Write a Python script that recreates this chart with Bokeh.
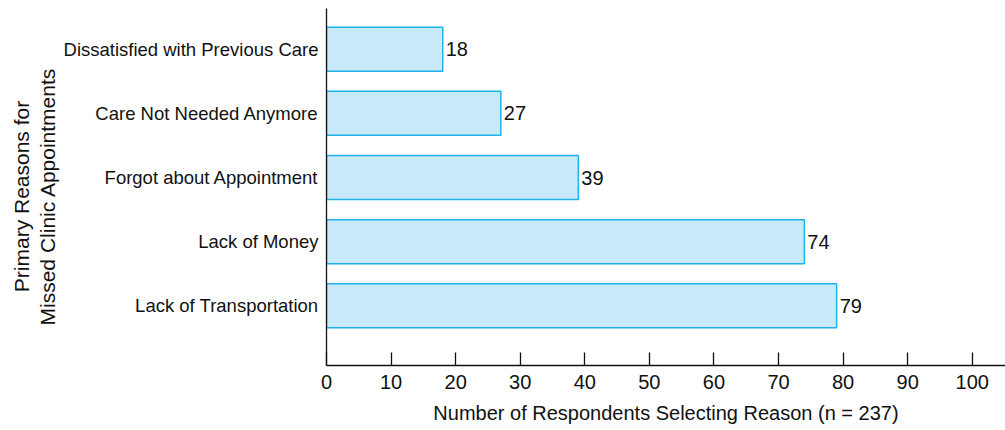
from bokeh.plotting import figure
from bokeh.models import ColumnDataSource, FixedTicker, Range1d, Label
from bokeh.layouts import row
from bokeh.core.properties import value
from bokeh.embed import file_html
from bokeh.resources import INLINE

# Survey results: primary reasons for missed clinic appointments
reasons = [
    "Lack of Transportation",
    "Lack of Money",
    "Forgot about Appointment",
    "Care Not Needed Anymore",
    "Dissatisfied with Previous Care",
]
respondents = [79, 74, 39, 27, 18]
x_ticks = [0, 10, 20, 30, 40, 50, 60, 70, 80, 90, 100]
y_title_lines = ["Primary Reasons for", "Missed Clinic Appointments"]

FONT = "Liberation Sans"
INK = "#111111"
STRIP_W = 60

positions = list(range(len(reasons)))
source = ColumnDataSource(dict(
    y=positions,
    value=respondents,
    label=[str(v) for v in respondents],
))

p = figure(
    width=1005 - STRIP_W, height=430,
    output_backend="svg", toolbar_location=None,
    x_range=Range1d(0, 105.15),
    y_range=Range1d(-0.93, 4.634),
    min_border_left=326 - STRIP_W, min_border_right=0,
    min_border_top=8, min_border_bottom=65,
)
p.outline_line_color = None
p.xgrid.visible = False
p.ygrid.visible = False
p.background_fill_color = "white"
p.border_fill_color = "white"

p.hbar(y="y", left=0, right="value", height=0.685, source=source,
       fill_color="#c8e9f8", line_color="#1fb1ea", line_width=1.5)

p.text(x="value", y="y", text="label", source=source,
       x_offset=3, text_baseline="middle", text_align="left",
       text_font=value(FONT), text_font_size="20px", text_color=INK)

# x axis: ticks pointing inward, labels below
xa = p.xaxis[0]
xa.ticker = FixedTicker(ticks=x_ticks)
xa.axis_line_color = INK
xa.axis_line_width = 1.3
xa.major_tick_in = 13
xa.major_tick_out = 0
xa.major_tick_line_color = INK
xa.major_tick_line_width = 1.3
xa.minor_tick_line_color = None
xa.major_label_text_font = FONT
xa.major_label_text_font_size = "20px"
xa.major_label_text_color = INK
xa.major_label_standoff = 9
xa.axis_label = "Number of Respondents Selecting Reason (n = 237)"
xa.axis_label_text_font = FONT
xa.axis_label_text_font_size = "20px"
xa.axis_label_text_font_style = "normal"
xa.axis_label_text_color = INK
xa.axis_label_standoff = 10

# y axis: plain line with category names, no ticks
ya = p.yaxis[0]
ya.ticker = FixedTicker(ticks=positions)
ya.major_label_overrides = {i: r for i, r in zip(positions, reasons)}
ya.axis_line_color = INK
ya.axis_line_width = 1.3
ya.major_tick_in = 0
ya.major_tick_out = 0
ya.major_tick_line_color = None
ya.minor_tick_line_color = None
ya.major_label_text_font = FONT
ya.major_label_text_font_size = "18.5px"
ya.major_label_text_color = INK
ya.major_label_standoff = 8

# narrow strip on the left carrying the two-line vertical axis title
strip = figure(
    width=STRIP_W, height=430,
    output_backend="svg", toolbar_location=None,
    x_range=Range1d(0, 1), y_range=Range1d(0, 1),
    min_border_left=0, min_border_right=0,
    min_border_top=0, min_border_bottom=0,
)
strip.axis.visible = False
strip.grid.visible = False
strip.outline_line_color = None
strip.background_fill_color = "white"
strip.border_fill_color = "white"

# the strip's frame lines up with the chart frame (canvas y 8..365)
for txt, xs in zip(y_title_lines, [21, 47]):
    strip.add_layout(Label(
        x=xs, y=169, x_units="screen", y_units="screen",
        text=txt, angle=1.5707963, text_align="center",
        text_baseline="alphabetic", text_font=FONT,
        text_font_size="21px", text_color=INK,
    ))

layout = row(strip, p, spacing=0)
open("out.html", "w").write(file_html(layout, INLINE))
